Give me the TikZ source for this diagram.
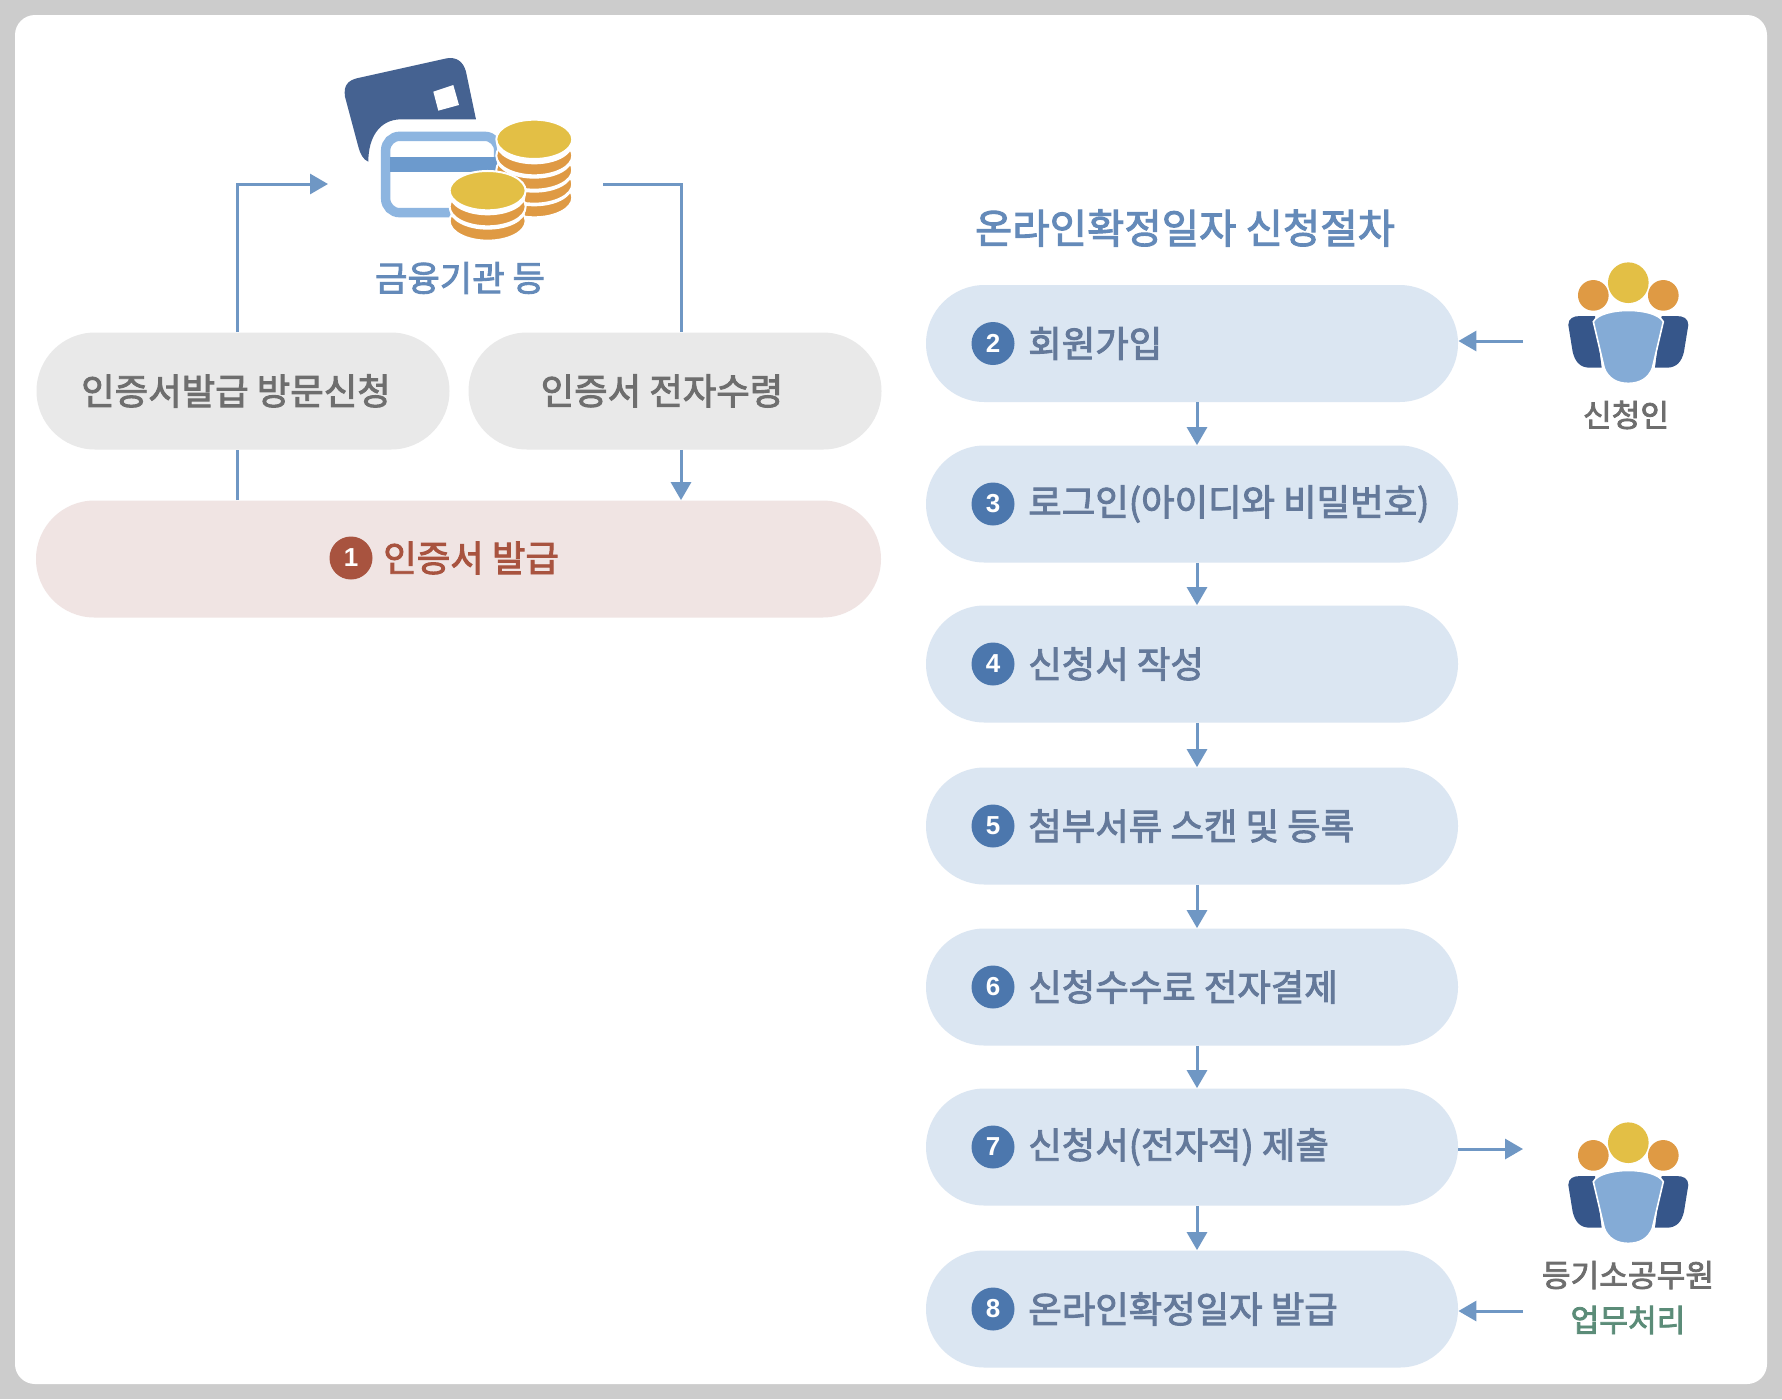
\documentclass[tikz,border=0pt]{standalone}
\usepackage{fontspec}
\usepackage{xcolor}
\usetikzlibrary{arrows.meta}
\usetikzlibrary{positioning}
\usetikzlibrary{shapes.misc}
\newfontfamily\krfont[FakeBold=2.5]{Noto Sans CJK KR}
\setsansfont{Liberation Sans}
\definecolor{frame}{HTML}{CCCCCC}
\definecolor{stepfill}{HTML}{DBE6F2}
\definecolor{stepink}{HTML}{64799A}
\definecolor{greyfill}{HTML}{E9E9E9}
\definecolor{greyink}{HTML}{6E6E6E}
\definecolor{issuefill}{HTML}{F0E4E3}
\definecolor{issueink}{HTML}{A8533F}
\definecolor{numfill}{HTML}{4C77AD}
\definecolor{flow}{HTML}{6F97C4}
\definecolor{titleink}{HTML}{648AB9}
\definecolor{okink}{HTML}{5B8C78}
\definecolor{gold}{HTML}{E3BF45}
\definecolor{amber}{HTML}{DF9A44}
\definecolor{navy}{HTML}{36568A}
\definecolor{cardnavy}{HTML}{456291}
\definecolor{bodyblue}{HTML}{84ABD6}
\definecolor{cardblue}{HTML}{8DB5E0}
\definecolor{bandblue}{HTML}{6C9ACD}
\tikzset{
pill/.style={rounded rectangle,inner sep=0pt,minimum height=58.5pt},
steppill/.style={pill,fill=stepfill,minimum width=266pt},
greypill/.style={pill,fill=greyfill,minimum width=206.5pt},
numdot/.style={circle,inner sep=0pt,minimum size=21.5pt,fill=numfill,text=white,font=\sffamily\bfseries\fontsize{13}{13}\selectfont},
pilltext/.style={inner sep=0pt,font=\krfont\fontsize{18.2}{18.2}\selectfont},
smalltext/.style={inner sep=0pt,font=\krfont\fontsize{15.6}{15.6}\selectfont},
flowline/.style={flow,line width=1.5pt},
flowarrow/.style={flowline,-{Triangle[length=9pt,width=10pt]}},
pics/person/.style={code={
\begin{scope}[shift={(-625,-128)}]
\fill[navy] (445,255) .. controls (445,235) and (460,228) .. (480,228) -- (525,228) -- (545,383) -- (510,383) .. controls (480,383) and (465,365) .. (458,335) -- cycle;
\fill[navy] (805,255) .. controls (805,235) and (790,228) .. (770,228) -- (725,228) -- (705,383) -- (740,383) .. controls (770,383) and (785,365) .. (792,335) -- cycle;
\filldraw[fill=bodyblue,draw=white,line width=.8pt] (520,245) .. controls (545,200) and (705,200) .. (730,245) -- (697,385) .. controls (685,415) and (660,430) .. (625,430) .. controls (590,430) and (565,415) .. (553,385) -- cycle;
\fill[amber] (520,166) circle (46);
\fill[amber] (730,166) circle (46);
\fill[gold] (625,128) circle (61);
\end{scope}
}}
}
\begin{document}
\begin{tikzpicture}[x=.5pt,y=-.5pt]
\useasboundingbox (0,0) rectangle (1782,1399);
\fill[frame] (0,0) rectangle (1782,1399);
\fill[white,rounded corners=10pt] (15,15) rectangle (1767,1384);
% card and coins
\begin{scope}[shift={(220,30)},scale=.3333]
\fill[cardnavy] (375,200) .. controls (370,165) and (385,152) .. (410,145) -- (680,85) .. controls (710,80) and (730,95) .. (738,125) -- (768,268) -- (540,268) .. controls (480,270) and (445,320) .. (445,395) .. controls (430,390) and (420,370) .. (415,350) -- cycle;
\fill[white] (640,185) -- (700,165) -- (717,225) -- (655,242) -- cycle;
\draw[cardblue,line width=4.7pt,rounded corners=7pt] (497,319) rectangle (836,548);
\fill[bandblue] (510,380) rectangle (830,425);
\foreach \b in {558,517,475,432}{
\filldraw[fill=amber,draw=white,line width=1pt] (943,\b-55) ellipse (114 and 59);
\fill[white] (943,\b-88) ellipse (114 and 59);
}
\filldraw[fill=gold,draw=white,line width=1pt] (943,328) ellipse (114 and 59);
\foreach \b in {628,585}{
\filldraw[fill=amber,draw=white,line width=1pt] (803,\b-55) ellipse (114 and 59);
\fill[white] (803,\b-88) ellipse (114 and 59);
}
\filldraw[fill=gold,draw=white,line width=1pt] (803,482) ellipse (114 and 59);
\end{scope}
\node[smalltext,text=titleink,font=\krfont\fontsize{17.6}{17.6}\selectfont] (bank) at (460,278) {금융기관 등};
% left side
\node[greypill] (visit) at (243,391) {};
\node[greypill] (receive) at (675,391) {};
\node[pill,fill=issuefill,minimum width=422.5pt] (issue) at (458.5,559) {};
\node[pilltext,text=greyink,xshift=-3.5pt] (visittext) at (visit.center) {인증서발급 방문신청};
\node[pilltext,text=greyink,xshift=-6.5pt] (receivetext) at (receive.center) {인증서 전자수령};
\node[numdot,fill=issueink] (num1) at (351,558) {1};
\node[pilltext,text=issueink,right=5pt of num1] (issuetext) {인증서 발급};
\coordinate (upleft) at (237.5,184);
\coordinate (upright) at (681,184);
\coordinate (bankin) at (328,184);
\coordinate (bankout) at (603,184);
\draw[flowline] (upleft |- issue.north) -- (upleft |- visit.south);
\draw[flowarrow] (upleft |- visit.north) -- (upleft) -- (bankin);
\draw[flowline] (bankout) -- (upright) -- (upright |- receive.north);
\draw[flowarrow] (upright |- receive.south) -- (upright |- issue.north);
% right side
\node[pilltext,text=titleink,font=\krfont\fontsize{20.3}{20.3}\selectfont] (proctitle) at (1185,228) {온라인확정일자 신청절차};
\foreach \i/\y/\t in {2/343.5/회원가입,3/504/로그인(아이디와 비밀번호),4/664/신청서 작성,5/826/첨부서류 스캔 및 등록,6/987/신청수수료 전자결제,7/1147/신청서(전자적) 제출,8/1309/온라인확정일자 발급}{
\node[steppill] (step\i) at (1192,\y) {};
\node[numdot,right=22.75pt of step\i.west] (num\i) {\i};
\node[pilltext,text=stepink,right=6.5pt of num\i] (text\i) {\t};
}
\coordinate (downx) at (1197,0);
\foreach \i/\j in {2/3,3/4,4/5,5/6,6/7,7/8}{
\draw[flowarrow] (downx |- step\i.south) -- (downx |- step\j.north);
}
\pic[scale=.3333] (applicant) at (1628.3,282.7) {person};
\pic[scale=.3333] (clerk) at (1628.3,1142.7) {person};
\node[smalltext,text=greyink] (applicanttext) at (1626,415) {신청인};
\node[smalltext,text=greyink] (clerktext) at (1628,1275) {등기소공무원};
\node[smalltext,text=okink] (worktext) at (1628,1320) {업무처리};
\coordinate (fromapplicant) at (1523,341);
\coordinate (toclerk) at (1523,1149);
\coordinate (fromclerk) at (1523,1311);
\draw[flowarrow] (fromapplicant) -- (fromapplicant -| step2.east);
\draw[flowarrow] (toclerk -| step7.east) -- (toclerk);
\draw[flowarrow] (fromclerk) -- (fromclerk -| step8.east);
\end{tikzpicture}
\end{document}
